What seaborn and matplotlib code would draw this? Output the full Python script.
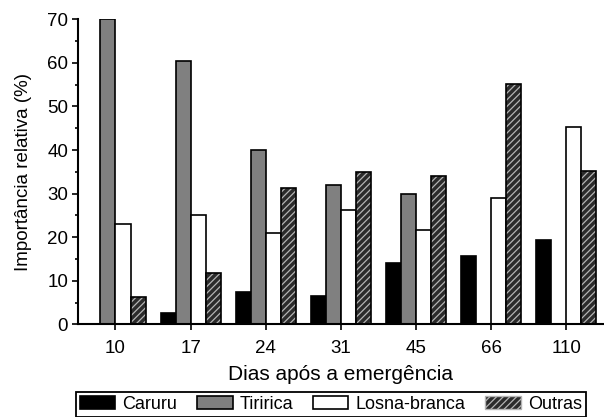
import matplotlib
matplotlib.use("Agg")
import matplotlib.pyplot as plt
import seaborn as sns
import pandas as pd
from matplotlib.patches import Patch, Rectangle
from matplotlib.ticker import MultipleLocator

# valores
dias = ["10", "17", "24", "31", "45", "66", "110"]
especies = ["Caruru", "Tiririca", "Losna-branca", "Outras"]
caruru = [0, 2.7, 7.4, 6.6, 14.2, 15.6, 19.3]
tiririca = [70, 60.4, 39.9, 32.0, 30.0, 0, 0]
losna = [23.0, 25.2, 21.0, 26.3, 21.7, 29.1, 45.3]
outras = [6.3, 11.7, 31.3, 34.9, 34.1, 55.2, 35.2]

cores = {"Caruru": "black", "Tiririca": "#808080",
         "Losna-branca": "white", "Outras": "#2b2b2b"}
hachura = "/////"
cor_hachura = "#b4b4b4"

df = pd.DataFrame({"dias": dias * 4,
                   "especie": [e for e in especies for _ in dias],
                   "valor": caruru + tiririca + losna + outras})

sns.set_style("ticks")
plt.rcParams["font.family"] = ["Liberation Sans", "DejaVu Sans"]
plt.rcParams["hatch.linewidth"] = 0.9
for k in ["text.color", "axes.labelcolor", "xtick.color", "ytick.color"]:
    plt.rcParams[k] = "black"

fig, ax = plt.subplots(figsize=(6.04, 4.17), dpi=100)
fig.subplots_adjust(left=0.129, right=1.0, top=0.954, bottom=0.222)

sns.barplot(data=df, x="dias", y="valor", hue="especie", order=dias,
            hue_order=especies, palette=cores, saturation=1,
            edgecolor="black", linewidth=1.2, legend=False, ax=ax)

# hachura clara com contorno preto
for bar in ax.containers[3]:
    bar.set_hatch(hachura)
    bar.set_edgecolor(cor_hachura)
    bar.set_linewidth(0)
    ax.add_patch(Rectangle(bar.get_xy(), bar.get_width(), bar.get_height(),
                           fill=False, edgecolor="black", linewidth=1.2))

ax.set_ylim(0, 70)
ax.yaxis.set_major_locator(MultipleLocator(10))
ax.yaxis.set_minor_locator(MultipleLocator(5))
ax.set_xlabel("Dias após a emergência", fontsize=15, labelpad=6)
ax.set_ylabel("Importância relativa (%)", fontsize=13.5, labelpad=11)
ax.tick_params(axis="both", which="major", labelsize=13.5, length=4, width=1.2)
ax.tick_params(axis="x", which="major", pad=7)
ax.tick_params(axis="y", which="major", pad=3)
ax.tick_params(axis="y", which="minor", length=2.5, width=1.2)
for s in ["left", "bottom"]:
    ax.spines[s].set_linewidth(1.5)
    ax.spines[s].set_color("black")
sns.despine(ax=ax)

handles = [Patch(facecolor=cores[e], edgecolor="black", linewidth=1.2, label=e)
           for e in especies[:3]]
handles.append(Patch(facecolor=cores["Outras"], edgecolor=cor_hachura,
                     hatch=hachura, label="Outras"))
leg = fig.legend(handles=handles, loc="lower center", bbox_to_anchor=(0.548, 0.0),
                 ncol=4, frameon=True, fancybox=False, edgecolor="black",
                 framealpha=1, fontsize=13, handlelength=1.95, handleheight=0.75,
                 handletextpad=0.4, columnspacing=1.1, borderpad=0.22,
                 borderaxespad=0.0)
leg.get_frame().set_linewidth(1.3)

fig.savefig("out.png", dpi=100)
